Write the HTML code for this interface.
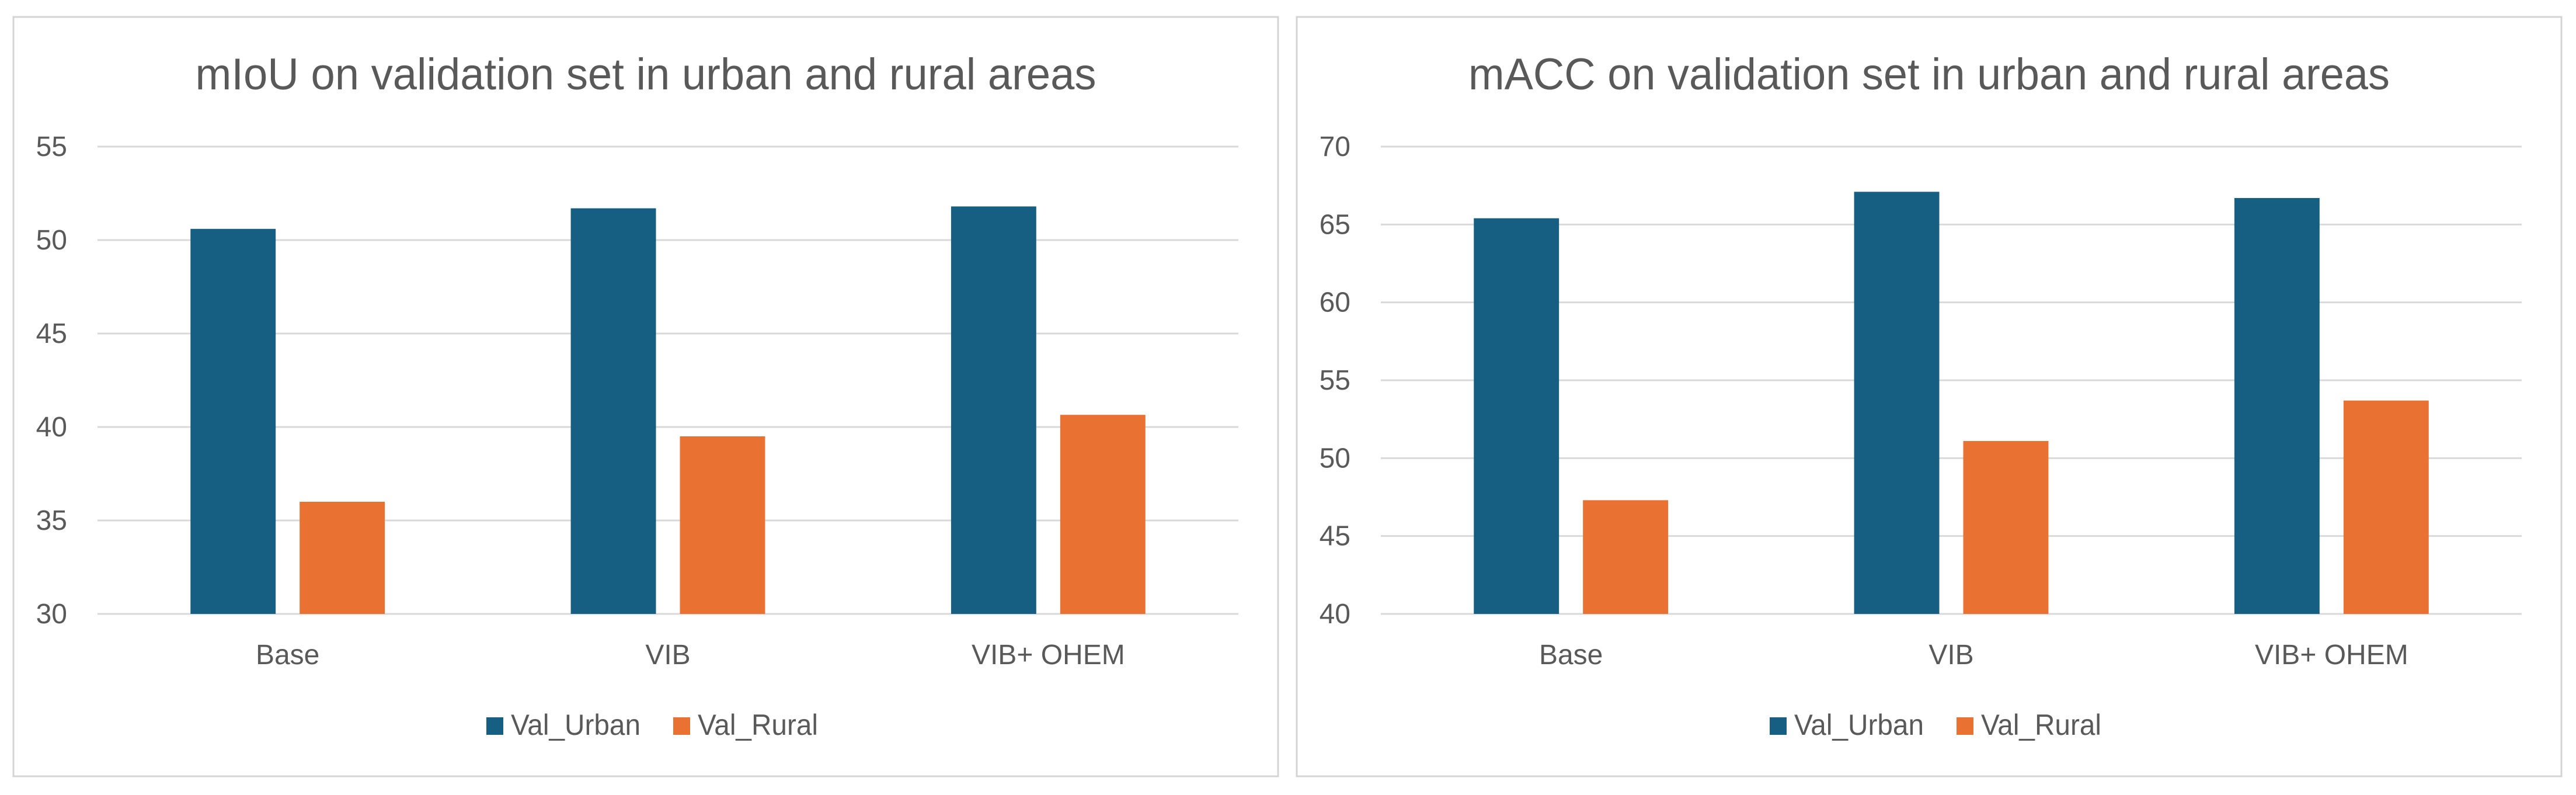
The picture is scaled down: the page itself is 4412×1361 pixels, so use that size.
<!DOCTYPE html>
<html><head><meta charset="utf-8"><style>
html,body{margin:0;padding:0;background:#fff;}
svg{display:block;}
text{font-family:"Liberation Sans",sans-serif;fill:#595959;}
</style></head><body>
<svg id="root" width="4412" height="1361" viewBox="0 0 4412 1361" xmlns="http://www.w3.org/2000/svg">
<rect x="0" y="0" width="4412" height="1361" fill="#fff"/>
<g id="c1"></g>
<g id="c2"></g>
</svg>
<script>
const categories = ["Base", "VIB", "VIB+ OHEM"];
const seriesNames = ["Val_Urban", "Val_Rural"];
const miouUrban = [50.6, 51.7, 51.8];
const miouRural = [36.0, 39.5, 40.65];
const miouTicks = [30, 35, 40, 45, 50, 55];
const maccUrban = [65.4, 67.1, 66.7];
const maccRural = [47.3, 51.1, 53.7];
const maccTicks = [40, 45, 50, 55, 60, 65, 70];
const colors = ["#175f82", "#e97132"];
const NS = "http://www.w3.org/2000/svg";

function mk(parent, tag, attrs, txt){
  const e = document.createElementNS(NS, tag);
  for (const k in attrs) e.setAttribute(k, attrs[k]);
  if (txt !== undefined) e.textContent = txt;
  parent.appendChild(e);
  return e;
}

function drawChart(g, ox, title, titleW, ticks, series){
  const left = ox, top = 29, right = ox + 2166, bottom = 1329;
  const px0 = ox + 144, px1 = ox + 2098;
  const yTop = 251, yBot = 1051;
  const tmin = ticks[0], tmax = ticks[ticks.length - 1];
  const y = v => yBot - (v - tmin) / (tmax - tmin) * (yBot - yTop);
  const catW = (px1 - px0) / categories.length;
  const barW = catW * 0.224, gap = catW * 0.063;

  const frame = mk(g, "rect", {x: left, y: top, width: right - left, height: bottom - top, fill: "#fff", stroke: "#d4d4d4", "stroke-width": 3});
  
  

  const t = mk(g, "text", {x: (left + right) / 2, y: 153, "font-size": 76, "text-anchor": "middle", textLength: titleW, lengthAdjust: "spacingAndGlyphs"}, title);
  
  

  ticks.forEach(v => {
    const ln = mk(g, "line", {x1: px0, x2: px1, y1: y(v), y2: y(v), stroke: "#d9d9d9", "stroke-width": 3});
    
    
    const lb = mk(g, "text", {x: px0 - 52, y: y(v) + 16, "font-size": 48, "text-anchor": "end"}, String(v));
    
    
  });

  categories.forEach((c, i) => {
    const cx = px0 + catW * (i + 0.5);
    series.forEach((s, j) => {
      const x = j === 0 ? cx - gap / 2 - barW : cx + gap / 2;
      const r = mk(g, "rect", {x: x, y: y(s[i]), width: barW, height: y(tmin) - y(s[i]), fill: colors[j]});
      
      
    });
    const cl = mk(g, "text", {x: cx, y: 1137, "font-size": 48, "text-anchor": "middle"}, c);
    
    
  });

  const lg = mk(g, "g", {});
  
  
  const legX = [ox + 810, ox + 1130];
  const legW = [222, 206];
  seriesNames.forEach((n, j) => {
    const sw = mk(lg, "rect", {x: legX[j], y: 1228, width: 29, height: 30, fill: colors[j]});
    
    
    const lt = mk(lg, "text", {x: legX[j] + 42, y: 1258, "font-size": 50, textLength: legW[j], lengthAdjust: "spacingAndGlyphs"}, n);
    
    
  });
}

drawChart(document.getElementById("c1"), 23, "mIoU on validation set in urban and rural areas", 1543, miouTicks, [miouUrban, miouRural]);
drawChart(document.getElementById("c2"), 2221, "mACC on validation set in urban and rural areas", 1578, maccTicks, [maccUrban, maccRural]);
</script>
</body></html>
